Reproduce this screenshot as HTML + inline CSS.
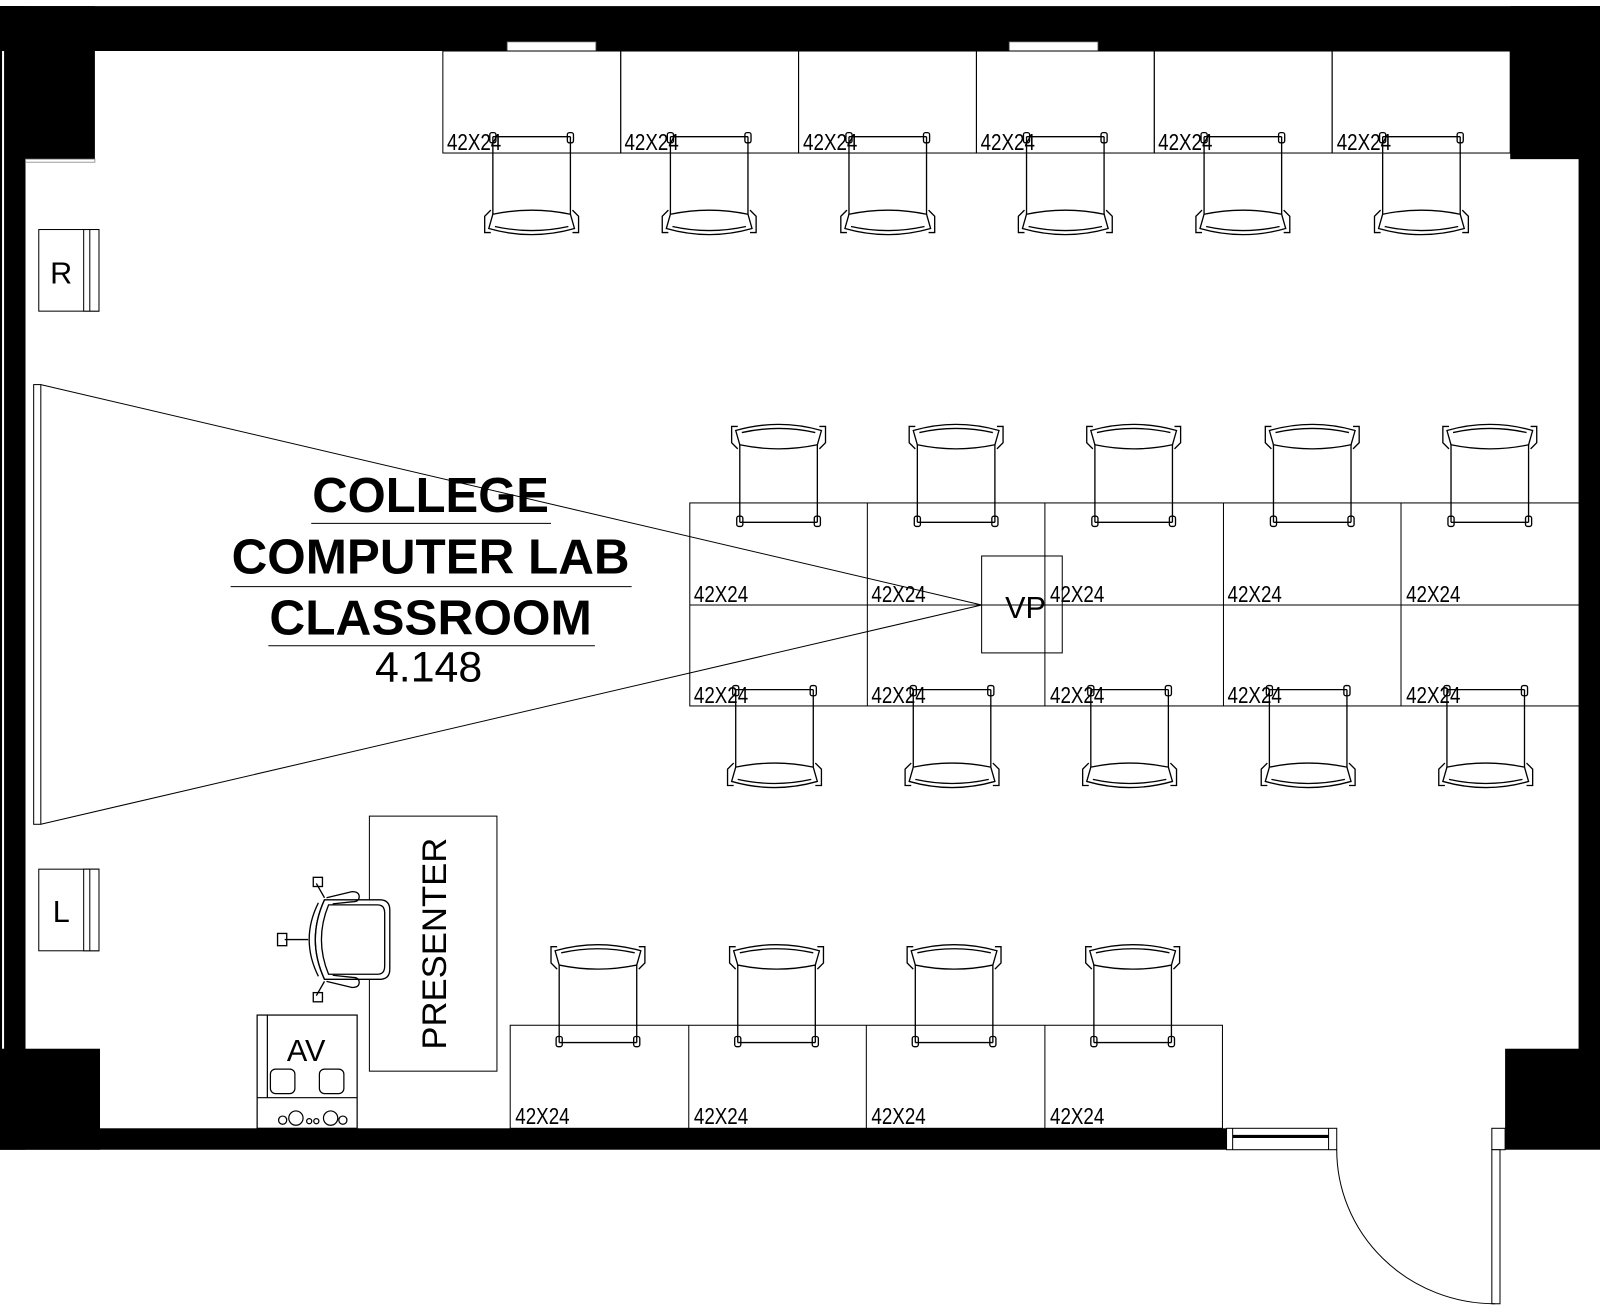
<!DOCTYPE html>
<html><head><meta charset="utf-8"><style>html,body{margin:0;padding:0;background:#fff}svg{display:block}</style></head>
<body>
<svg width="1600" height="1316" viewBox="0 0 1568 1290" preserveAspectRatio="none" xmlns="http://www.w3.org/2000/svg" font-family="Liberation Sans, sans-serif">
<defs>
<g id="ch" fill="none" stroke="#000" stroke-width="1.3">
  <line x1="-38" y1="0" x2="38" y2="0"/>
  <rect x="-41" y="-4" width="6" height="10" rx="2"/>
  <rect x="35" y="-4" width="6" height="10" rx="2"/>
  <line x1="-38" y1="0" x2="-38" y2="78"/>
  <line x1="38" y1="0" x2="38" y2="78"/>
  <path d="M-38,76 Q0,68 38,76 L42,90 Q0,102 -42,90 Z" fill="#fff"/>
  <path d="M-36,88 Q0,96 36,88"/>
  <path d="M-40,72 L-46,78 L-46,94 L-40,94"/>
  <path d="M40,72 L46,78 L46,94 L40,94"/>
</g>
<g id="lb"><text font-size="20" transform="scale(0.92,1.12)">42X24</text></g>
</defs>
<rect width="1568" height="1290" fill="#fff"/>
<g fill="#000">
<rect x="0" y="6" width="1568" height="44"/>
<rect x="0" y="6" width="93" height="152"/>
<rect x="0" y="6" width="25" height="1121"/>
<rect x="0" y="1028" width="98" height="99"/>
<rect x="0" y="1106" width="1202" height="21"/>
<rect x="1480" y="6" width="88" height="150"/>
<rect x="1547" y="6" width="21" height="1023"/>
<rect x="1475" y="1028" width="93" height="99"/>
</g>
<rect x="2" y="50" width="2" height="978" fill="#fff"/>
<rect x="25" y="156" width="68" height="3" fill="#fff" stroke="#888" stroke-width="0.8"/>
<rect x="497" y="41" width="87" height="9" fill="#fff" stroke="#555" stroke-width="0.8"/>
<rect x="989" y="41" width="87" height="9" fill="#fff" stroke="#555" stroke-width="0.8"/>
<g fill="#fff" stroke="#000" stroke-width="1">
<rect x="1202" y="1106" width="108" height="21"/>
<line x1="1208" y1="1106" x2="1208" y2="1127"/>
<line x1="1302" y1="1106" x2="1302" y2="1127"/>
<rect x="1462" y="1106" width="13" height="21"/>
<rect x="1462" y="1127" width="8" height="151"/>
<path d="M1310,1127 A155,151 0 0 0 1465,1278" fill="none"/>
</g>
<line x1="1208" y1="1114" x2="1302" y2="1114" stroke="#000" stroke-width="3"/>
<rect x="33" y="377" width="7" height="431" fill="#fff" stroke="#000" stroke-width="1"/>
<g stroke="#000" stroke-width="1" fill="none">
<line x1="40" y1="377" x2="962" y2="593"/>
<line x1="40" y1="808" x2="962" y2="593"/>
</g>
<g fill="none" stroke="#000" stroke-width="1">
<rect x="434" y="50" width="174.3" height="100"/>
<rect x="608.3" y="50" width="174.3" height="100"/>
<rect x="782.6" y="50" width="174.3" height="100"/>
<rect x="956.9" y="50" width="174.3" height="100"/>
<rect x="1131.2" y="50" width="174.3" height="100"/>
<rect x="1305.5" y="50" width="174.5" height="100"/>
</g>
<use href="#lb" x="0" y="0" transform="translate(438,147)"/>
<use href="#lb" transform="translate(612,147)"/>
<use href="#lb" transform="translate(787,147)"/>
<use href="#lb" transform="translate(961,147)"/>
<use href="#lb" transform="translate(1135,147)"/>
<use href="#lb" transform="translate(1310,147)"/>
<use href="#ch" transform="translate(521,134)"/>
<use href="#ch" transform="translate(695,134)"/>
<use href="#ch" transform="translate(870,134)"/>
<use href="#ch" transform="translate(1044,134)"/>
<use href="#ch" transform="translate(1218,134)"/>
<use href="#ch" transform="translate(1393,134)"/>
<g fill="none" stroke="#000" stroke-width="1">
<rect x="676" y="493" width="872" height="199"/>
<line x1="676" y1="593" x2="1548" y2="593"/>
<line x1="850" y1="493" x2="850" y2="692"/>
<line x1="1024" y1="493" x2="1024" y2="692"/>
<line x1="1199" y1="493" x2="1199" y2="692"/>
<line x1="1373" y1="493" x2="1373" y2="692"/>
</g>
<use href="#lb" transform="translate(680,590)"/>
<use href="#lb" transform="translate(854,590)"/>
<use href="#lb" transform="translate(1029,590)"/>
<use href="#lb" transform="translate(1203,590)"/>
<use href="#lb" transform="translate(1378,590)"/>
<use href="#lb" transform="translate(680,689)"/>
<use href="#lb" transform="translate(854,689)"/>
<use href="#lb" transform="translate(1029,689)"/>
<use href="#lb" transform="translate(1203,689)"/>
<use href="#lb" transform="translate(1378,689)"/>
<use href="#ch" transform="translate(763,512) scale(1,-1)"/>
<use href="#ch" transform="translate(937,512) scale(1,-1)"/>
<use href="#ch" transform="translate(1111,512) scale(1,-1)"/>
<use href="#ch" transform="translate(1286,512) scale(1,-1)"/>
<use href="#ch" transform="translate(1460,512) scale(1,-1)"/>
<use href="#ch" transform="translate(759,676)"/>
<use href="#ch" transform="translate(933,676)"/>
<use href="#ch" transform="translate(1107,676)"/>
<use href="#ch" transform="translate(1282,676)"/>
<use href="#ch" transform="translate(1456,676)"/>
<rect x="962" y="545" width="79" height="95" fill="none" stroke="#000" stroke-width="1"/>
<text x="1005" y="606" font-size="30" text-anchor="middle">VP</text>
<g fill="#000" text-anchor="middle" font-weight="bold">
<text x="422" y="502" font-size="48" textLength="232" lengthAdjust="spacingAndGlyphs">COLLEGE</text>
<text x="422" y="562" font-size="48" textLength="390" lengthAdjust="spacingAndGlyphs">COMPUTER LAB</text>
<text x="422" y="622" font-size="48" textLength="316" lengthAdjust="spacingAndGlyphs">CLASSROOM</text>
</g>
<text x="420" y="668" font-size="42" text-anchor="middle">4.148</text>
<g stroke="#000" stroke-width="1">
<line x1="305" y1="513" x2="540" y2="513"/>
<line x1="226" y1="575" x2="619" y2="575"/>
<line x1="263" y1="633" x2="583" y2="633"/>
</g>
<g fill="#fff" stroke="#000" stroke-width="1">
<rect x="38" y="225" width="59" height="80"/><rect x="82" y="225" width="15" height="80"/><line x1="88" y1="225" x2="88" y2="305"/>
<rect x="38" y="852" width="59" height="80"/><rect x="82" y="852" width="15" height="80"/><line x1="88" y1="852" x2="88" y2="932"/>
</g>
<text x="60" y="278" font-size="30" text-anchor="middle">R</text>
<text x="60" y="904" font-size="30" text-anchor="middle">L</text>
<rect x="362" y="800" width="125" height="250" fill="none" stroke="#000" stroke-width="1"/>
<text transform="translate(437,925) rotate(-90)" font-size="34" text-anchor="middle">PRESENTER</text>
<!-- presenter chair -->
<g fill="none" stroke="#000" stroke-width="1.3">
<path d="M318,882 L372,882 Q382,882 382,892 L382,950 Q382,960 372,960 L318,960 Q300,921 318,882 Z" fill="#fff"/>
<path d="M322,887 L370,887 Q377,887 377,895 L377,947 Q377,955 370,955 L322,955 Q308,921 322,887 Z"/>
<path d="M318,882 Q300,921 318,960"/>
<path d="M312,885 Q294,921 312,957"/>
<path d="M320,880 L345,874 Q352,874 352,879 Q352,884 345,884 L326,886"/>
<path d="M320,962 L345,968 Q352,968 352,963 Q352,958 345,958 L326,956"/>
<line x1="318" y1="880" x2="310" y2="866"/><rect x="307" y="860" width="9" height="9"/>
<line x1="318" y1="962" x2="310" y2="976"/><rect x="307" y="973" width="9" height="9"/>
<line x1="279" y1="921" x2="302" y2="921"/><rect x="272" y="915" width="9" height="12"/>
</g>
<g fill="#fff" stroke="#000" stroke-width="1.2">
<rect x="252" y="995" width="98" height="111"/>
<line x1="252" y1="1076" x2="350" y2="1076"/>
<line x1="262" y1="995" x2="262" y2="1076"/>
<rect x="265" y="1048" width="24" height="24" rx="5"/>
<rect x="313" y="1048" width="24" height="24" rx="5"/>
<circle cx="290" cy="1096" r="7"/><circle cx="324" cy="1096" r="7"/>
<circle cx="277" cy="1098" r="4"/><circle cx="303" cy="1099" r="2.5"/><circle cx="310" cy="1099" r="2.5"/><circle cx="336" cy="1098" r="4"/>
</g>
<text x="300" y="1040" font-size="30" text-anchor="middle">AV</text>
<g fill="none" stroke="#000" stroke-width="1">
<rect x="500" y="1005" width="698" height="101"/>
<line x1="675" y1="1005" x2="675" y2="1106"/>
<line x1="849" y1="1005" x2="849" y2="1106"/>
<line x1="1024" y1="1005" x2="1024" y2="1106"/>
</g>
<use href="#lb" transform="translate(505,1102)"/>
<use href="#lb" transform="translate(680,1102)"/>
<use href="#lb" transform="translate(854,1102)"/>
<use href="#lb" transform="translate(1029,1102)"/>
<use href="#ch" transform="translate(586,1022) scale(1,-1)"/>
<use href="#ch" transform="translate(761,1022) scale(1,-1)"/>
<use href="#ch" transform="translate(935,1022) scale(1,-1)"/>
<use href="#ch" transform="translate(1110,1022) scale(1,-1)"/>
</svg>
</body></html>
